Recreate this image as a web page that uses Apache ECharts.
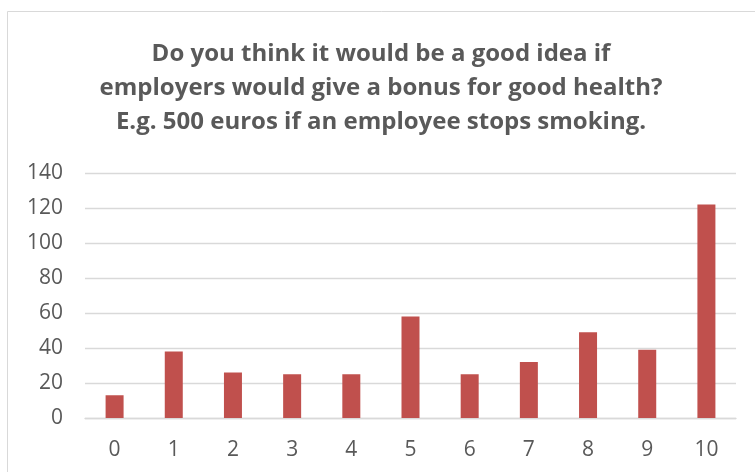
<!DOCTYPE html>
<html><head><meta charset="utf-8">
<script src="https://cdn.jsdelivr.net/npm/echarts@6/dist/echarts.min.js"></script>
<style>html,body{margin:0;padding:0;background:#fff}#c{width:755px;height:472px}</style>
</head><body><div id="c"></div>
<script>
const categories = ['0','1','2','3','4','5','6','7','8','9','10'];
const counts = [13, 38, 26, 25, 25, 58, 25, 32, 49, 39, 122];
const titleLines = ['Do you think it would be a good idea if','employers would give a bonus for good health?','E.g. 500 euros if an employee stops smoking.'];

const chart = echarts.init(document.getElementById('c'), null, {renderer:'canvas'});
chart.setOption({
  animation:false,
  backgroundColor:'#fff',
  graphic:[{type:'rect',shape:{x:7.5,y:11.5,width:760,height:470},style:{fill:'none',stroke:'#d9d9d9',lineWidth:1}}],
  title:{text:titleLines.join('\n'),left:376,textAlign:'center',top:32,
    textStyle:{fontFamily:'Open Sans',fontWeight:'bold',fontSize:24,lineHeight:34,color:'#595959'}},
  grid:{left:85,right:19,top:173,bottom:54,containLabel:false},
  xAxis:{type:'category',data:categories,
    axisLine:{lineStyle:{color:'#d9d9d9',width:1.3}},axisTick:{show:false},
    axisLabel:{color:'#595959',fontFamily:'Open Sans',fontSize:21,margin:22}},
  yAxis:{type:'value',min:0,max:140,interval:20,
    axisLine:{show:false},axisTick:{show:false},
    splitLine:{lineStyle:{color:'#d9d9d9',width:1.3}},
    axisLabel:{color:'#595959',fontFamily:'Open Sans',fontSize:21,margin:22}},
  series:[{type:'bar',data:counts,barWidth:18,itemStyle:{color:'#c0504d'}}]
});
</script></body></html>
